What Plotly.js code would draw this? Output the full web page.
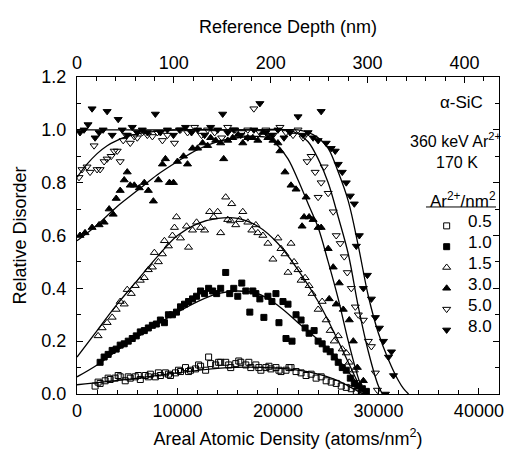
<!DOCTYPE html>
<html>
<head>
<meta charset="utf-8">
<script src="https://cdn.plot.ly/plotly-3.0.1.min.js"></script>
<style>html,body{margin:0;padding:0;background:#fff;}#chart{width:507px;height:461px;}</style>
</head>
<body>
<div id="chart"></div>
<script>
// ---- data ----
var fluences = ["0.5", "1.0", "1.5", "3.0", "5.0", "8.0"];

var x05 = [1800,2100,2300,2800,3100,3300,3800,4100,4300,4800,5100,5300,5800,6100,6300,6800,7100,7300,7800,8100,8300,8800,9100,9300,9800,10100,10300,10800,11100,11300,11800,12100,12300,12800,13100,13300,13800,14100,14300,14800,15100,15300,15800,16100,16300,16800,17100,17300,17800,18100,18300,18800,19100,19300,19800,20100,20300,20800,21100,21300,21800,22300,22800,23300,23800,24300,24800,25300,25800,26300,26800,27300,27800,28300];
var y05 = [0.03,0.045,0.04,0.05,0.06,0.055,0.06,0.07,0.065,0.05,0.065,0.06,0.065,0.07,0.055,0.07,0.065,0.075,0.065,0.08,0.07,0.08,0.075,0.07,0.08,0.09,0.085,0.1,0.085,0.09,0.095,0.11,0.105,0.09,0.14,0.115,0.11,0.12,0.12,0.12,0.11,0.1,0.115,0.125,0.12,0.11,0.12,0.1,0.11,0.1,0.09,0.1,0.105,0.095,0.1,0.09,0.085,0.09,0.1,0.1,0.085,0.08,0.07,0.075,0.06,0.065,0.05,0.045,0.04,0.03,0.025,0.02,0.01,0.005];

var x10 = [2300,2700,3100,3500,3900,4300,4700,5100,5500,5900,6300,6700,7100,7500,7900,8300,8700,9100,9500,9900,10300,10700,11100,11500,11900,12300,12700,13100,13500,13900,14300,14800,15200,15600,16000,16400,16800,17200,17500,17800,18200,18600,19000,19400,19800,20100,20500,20800,21000,21400,21800,22300,22700,23100,23600,24000,24400,24800,25200,25600,26000,26400,26800,27200,27600,28000,28400,28800];
var y10 = [0.12,0.14,0.15,0.165,0.17,0.185,0.19,0.2,0.21,0.22,0.235,0.24,0.25,0.26,0.265,0.28,0.27,0.3,0.3,0.31,0.33,0.34,0.35,0.36,0.37,0.39,0.38,0.4,0.39,0.38,0.4,0.46,0.38,0.4,0.37,0.42,0.39,0.31,0.39,0.38,0.36,0.29,0.37,0.35,0.38,0.27,0.35,0.21,0.34,0.2,0.3,0.28,0.25,0.23,0.24,0.2,0.19,0.17,0.16,0.14,0.12,0.1,0.09,0.06,0.04,0.03,0.02,0.01];

var x15 = [2100,2500,3000,3500,3900,4300,4700,5000,5400,5800,6300,6700,7100,7500,7700,8100,8500,8700,9100,9500,9700,9900,10300,10900,11100,11500,11900,12300,12700,13200,13600,14000,14300,14800,15000,15300,15400,15800,16200,16500,17000,17400,17800,18000,18500,19000,19500,20000,20300,20700,21000,21300,21600,22000,22300,22700,23100,23400,24000,24400,24800,25200,25600,26000,26400,26800,27100,27600,28000,28400];
var y15 = [0.22,0.25,0.27,0.29,0.32,0.35,0.34,0.395,0.38,0.41,0.43,0.44,0.47,0.48,0.535,0.5,0.53,0.58,0.56,0.6,0.63,0.67,0.59,0.635,0.555,0.62,0.65,0.63,0.62,0.69,0.67,0.69,0.61,0.745,0.66,0.655,0.72,0.64,0.66,0.69,0.65,0.62,0.64,0.61,0.6,0.57,0.51,0.59,0.55,0.53,0.46,0.57,0.5,0.47,0.43,0.44,0.41,0.38,0.32,0.35,0.28,0.24,0.2,0.22,0.17,0.155,0.12,0.09,0.04,0.01];

var x30 = [300,800,1500,2200,2700,3200,3600,3900,4300,4700,5000,5300,5700,6200,6700,7100,7600,8100,8500,8800,9200,9600,10000,10600,11000,11500,12000,12500,13000,13300,13800,14300,14600,15000,15500,16000,16500,17000,17500,18000,18500,19000,19500,20000,20200,20700,21300,21800,22400,22600,22800,23100,23500,24000,24300,25000,25100,25500,25800,26100,26500,27100,27500,27900,28500];
var y30 = [0.6,0.61,0.63,0.64,0.65,0.7,0.68,0.74,0.77,0.81,0.84,0.79,0.79,0.78,0.8,0.77,0.73,0.81,0.87,0.89,0.8,0.8,0.88,0.9,0.87,0.93,0.93,0.95,0.94,0.97,0.96,0.95,0.89,0.96,0.97,0.98,0.95,0.97,0.97,0.96,0.99,0.97,0.96,0.95,0.92,0.84,0.79,0.775,0.635,0.67,0.745,0.67,0.66,0.63,0.63,0.55,0.36,0.48,0.34,0.42,0.32,0.28,0.2,0.1,0.05];

var x50 = [200,500,1000,1300,1700,2000,2300,2700,3000,3400,3700,4000,4300,4600,4900,5300,5700,6000,6500,7000,7500,8000,8500,9000,9700,10300,11000,11700,12400,13000,13700,14400,15000,15700,16400,17000,17600,18200,18800,19500,20200,20800,21500,22000,22500,22900,23300,23700,24000,24300,24600,25000,25500,25800,26200,26600,26900,27300,27700,28000,28500,29000,29300,29700,29900];
var y50 = [0.82,0.85,0.86,0.84,0.94,0.85,0.85,0.88,0.89,0.9,0.92,0.92,0.88,0.96,0.98,0.95,0.975,0.97,0.99,0.98,0.975,0.99,0.96,0.98,0.95,1.0,0.99,1.01,0.98,1.0,0.99,0.97,1.01,1.0,0.99,1.0,1.08,0.99,1.0,0.98,1.01,0.99,0.98,1.0,0.97,0.88,0.9,0.84,0.745,0.8,0.86,0.76,0.69,0.6,0.57,0.52,0.46,0.4,0.33,0.3,0.28,0.2,0.18,0.08,0.015];

var x80 = [300,700,1100,1500,1800,2200,2600,3000,3500,4100,4500,5000,5500,6000,6500,7000,7800,8300,9000,9600,10200,10800,11400,12000,12700,13300,14000,14500,15000,15600,16300,17000,17600,18200,18800,19400,20000,20600,21200,22000,22500,23000,23500,24000,24300,24800,25300,25700,26000,26400,26800,27200,27600,27800,28100,28500,28900,29300,29700,30100,30500,30700,31000,31300,31500];
var y80 = [0.99,1.0,1.02,1.08,0.97,0.99,1.0,1.07,0.98,1.04,1.0,0.98,1.01,0.99,1.0,0.99,1.06,0.99,1.0,0.98,1.0,1.01,0.99,1.0,0.98,1.01,1.0,1.06,0.99,1.0,0.98,0.97,1.0,1.1,0.99,0.98,1.0,0.97,0.99,1.05,0.98,0.99,0.97,0.96,1.07,0.95,0.93,0.92,0.87,0.84,0.8,0.75,0.72,0.56,0.6,0.4,0.45,0.36,0.29,0.25,0.2,0.0,0.14,0.16,0.07];

// fitted curves
var fx05 = [0,5000,10000,15000,20000,22000,24000,26000,27000,28000,28500];
var fy05 = [0.035,0.055,0.08,0.1,0.098,0.09,0.075,0.05,0.03,0.01,0];
var fx10 = [0,2000,4000,6000,8000,10000,12000,14000,16000,18000,20000,22000,24000,26000,27000,28000,28600];
var fy10 = [0.065,0.11,0.165,0.215,0.265,0.31,0.35,0.38,0.39,0.38,0.335,0.27,0.205,0.13,0.085,0.035,0];
var fx15 = [0,2000,4000,6000,8000,10000,12000,14000,16000,18000,20000,22000,24000,26000,27000,28000,28600];
var fy15 = [0.14,0.24,0.34,0.43,0.52,0.6,0.645,0.665,0.665,0.635,0.57,0.47,0.35,0.2,0.12,0.04,0];
var fx30 = [0,2000,4000,6000,8000,10000,12000,14000,16000,18000,19000,20000,21000,22000,23000,24000,25000,26000,27000,28000,28600];
var fy30 = [0.58,0.64,0.71,0.77,0.83,0.88,0.925,0.955,0.97,0.975,0.97,0.94,0.89,0.81,0.72,0.63,0.5,0.36,0.2,0.06,0];
var fx50 = [0,1000,2000,3000,4000,5000,6000,8000,10000,14000,18000,21000,22000,23000,24000,25000,26000,27000,28000,29000,30000,30400];
var fy50 = [0.82,0.87,0.91,0.94,0.96,0.975,0.985,0.995,1.0,1.0,1.0,1.0,0.985,0.955,0.89,0.8,0.67,0.53,0.33,0.16,0.03,0];
var fx80 = [0,5000,10000,15000,20000,22000,23000,24000,25000,26000,27000,28000,29000,30000,31000,32000,32500,33000];
var fy80 = [1.0,1.0,1.0,1.0,1.0,1.0,0.99,0.97,0.93,0.84,0.73,0.56,0.37,0.23,0.13,0.05,0.02,0];

var densityPerNm = 96.4; // atoms/nm^3 used for the top (depth) axis
var xMax = 42000;

// ---- build traces ----
var series = [
  {name: fluences[0], x: x05, y: y05, symbol: "square-open", size: 6},
  {name: fluences[1], x: x10, y: y10, symbol: "square", size: 6},
  {name: fluences[2], x: x15, y: y15, symbol: "triangle-up-open", size: 7},
  {name: fluences[3], x: x30, y: y30, symbol: "triangle-up", size: 7},
  {name: fluences[4], x: x50, y: y50, symbol: "triangle-down-open", size: 7},
  {name: fluences[5], x: x80, y: y80, symbol: "triangle-down", size: 7}
];
var fits = [[fx05,fy05],[fx10,fy10],[fx15,fy15],[fx30,fy30],[fx50,fy50],[fx80,fy80]];

var traces = [];
fits.forEach(function(f){
  traces.push({x: f[0], y: f[1], mode: "lines", type: "scatter",
    line: {color: "black", width: 1.3, shape: "spline", smoothing: 1},
    showlegend: false, hoverinfo: "skip"});
});
series.forEach(function(s){
  traces.push({x: s.x, y: s.y, name: "", mode: "markers", type: "scatter",
    marker: {symbol: s.symbol, size: s.size, color: "black",
             line: {color: "black", width: 1}}});
});
// invisible carrier so that the top (depth) axis is drawn
traces.push({x: fx80.map(function(v){ return v / densityPerNm; }), y: fy80,
  xaxis: "x2", yaxis: "y", mode: "lines", line: {width: 0, color: "rgba(0,0,0,0)"},
  opacity: 0, showlegend: false, hoverinfo: "skip"});

var FONT = "Liberation Sans, Arial, Helvetica, sans-serif";
var axisCommon = {
  showgrid: false, zeroline: false, showline: true, linecolor: "black", linewidth: 1,
  ticks: "inside", ticklen: 6, tickcolor: "black", tickwidth: 1,
  tickfont: {family: FONT, size: 18, color: "black"}
};

// legend rows (paper y) and the text column
var rowY = [0.5426, 0.4770, 0.4114, 0.3457, 0.2801, 0.2145];
var annotations = [
  {x: 0.912, y: 0.921, text: "\u03b1-SiC", size: 17},
  {x: 0.897, y: 0.800, text: "360 keV Ar<sup>2+</sup>", size: 16},
  {x: 0.900, y: 0.729, text: "170 K", size: 16},
  {x: 0.915, y: 0.612, text: "Ar<sup>2+</sup>/nm<sup>2</sup>", size: 17}
];
fluences.forEach(function(f, i){ annotations.push({x: 0.955, y: rowY[i], text: f, size: 17}); });
annotations = annotations.map(function(a){
  return {xref: "paper", yref: "paper", x: a.x, y: a.y, text: a.text, showarrow: false,
    xanchor: "center", yanchor: "middle", font: {family: FONT, size: a.size, color: "black"}};
});

var layout = {
  width: 507, height: 461,
  margin: {l: 77, r: 8, t: 77, b: 67},
  paper_bgcolor: "white", plot_bgcolor: "white",
  font: {family: FONT, color: "black"},
  showlegend: true,
  legend: {x: 0.812, y: 0.579, xanchor: "left", yanchor: "top",
    bgcolor: "rgba(0,0,0,0)", borderwidth: 0, itemwidth: 44,
    font: {family: FONT, size: 13.7, color: "black"}, tracegroupgap: 0},
  xaxis: Object.assign({}, axisCommon, {
    range: [0, xMax], dtick: 10000, tick0: 0, tickformat: "d",
    minor: {dtick: 2000, ticks: "inside", ticklen: 4, tickcolor: "black"},
    title: {text: "Areal Atomic Density (atoms/nm<sup>2</sup>)", font: {family: FONT, size: 18, color: "black"}, standoff: 12}
  }),
  xaxis2: Object.assign({}, axisCommon, {
    overlaying: "x", side: "top", anchor: "y",
    range: [0, xMax / densityPerNm], dtick: 100, tick0: 0, tickformat: "d",
    minor: {dtick: 20, ticks: "inside", ticklen: 4, tickcolor: "black"},
    title: {text: "Reference Depth (nm)", font: {family: FONT, size: 18, color: "black"}, standoff: 14}
  }),
  yaxis: Object.assign({}, axisCommon, {
    range: [0, 1.2], dtick: 0.2, tick0: 0, tickformat: ".1f", mirror: "ticks",
    ticklabelstandoff: 6,
    minor: {dtick: 0.1, ticks: "inside", ticklen: 4, tickcolor: "black"},
    title: {text: "Relative Disorder", font: {family: FONT, size: 18, color: "black"}, standoff: 10}
  }),
  annotations: annotations,
  shapes: [
    {type: "line", xref: "paper", yref: "paper", x0: 0.827, x1: 0.993, y0: 0.59, y1: 0.59,
     line: {color: "black", width: 1}}
  ]
};

Plotly.newPlot("chart", traces, layout, {displayModeBar: false, staticPlot: true});
</script>
</body>
</html>
